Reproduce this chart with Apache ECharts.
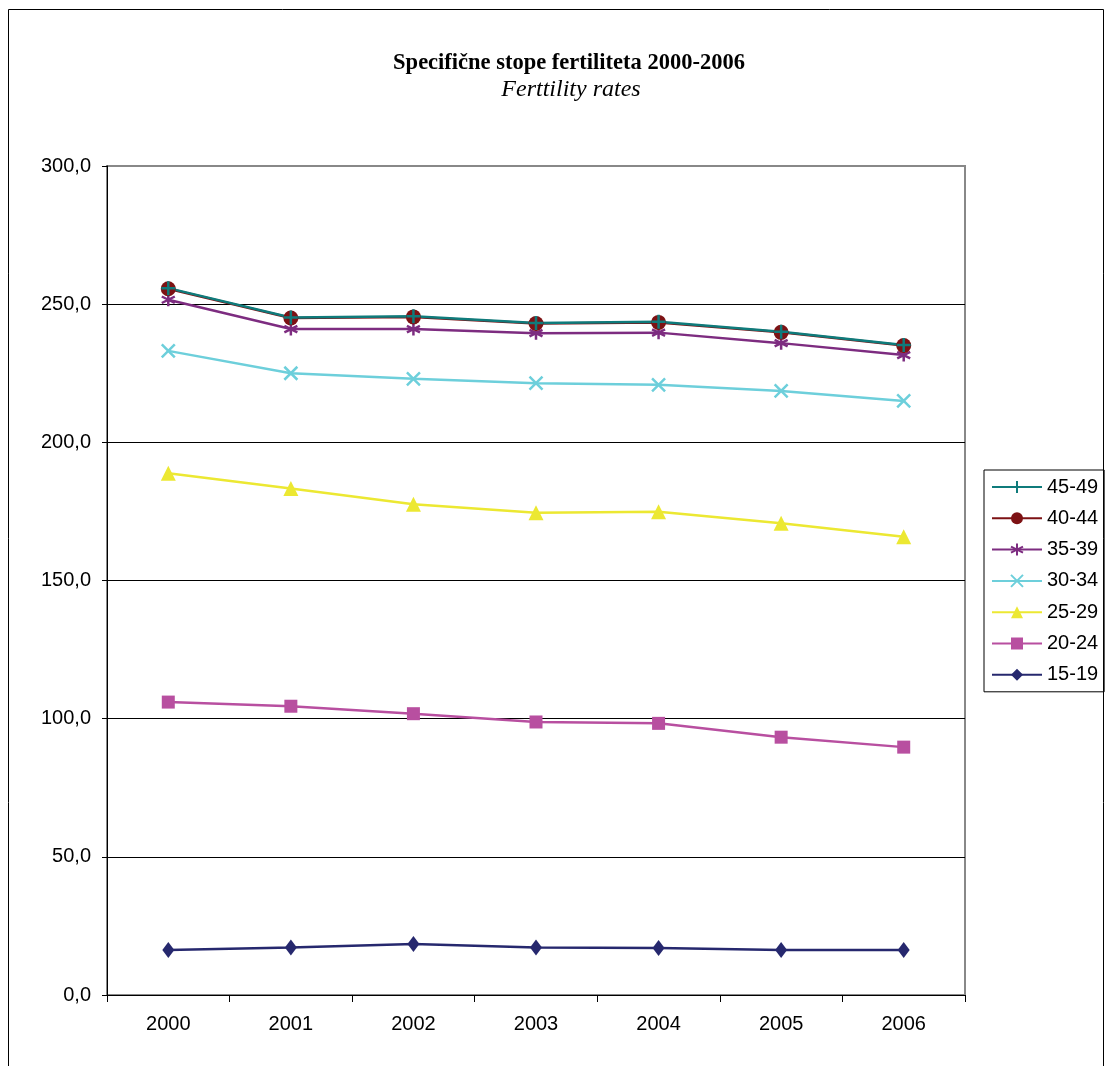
<!DOCTYPE html>
<html>
<head>
<meta charset="utf-8">
<script src="https://cdn.jsdelivr.net/npm/echarts@6/dist/echarts.min.js"></script>
<style>
html,body{margin:0;padding:0;background:#fff;}
#chart{width:1113px;height:1066px;}
</style>
</head>
<body>
<div id="chart"></div>
<script>
var years = ['2000','2001','2002','2003','2004','2005','2006'];
var s15_19 = [16.3, 17.2, 18.5, 17.2, 17.0, 16.3, 16.3];
var s20_24 = [106.0, 104.5, 101.8, 98.8, 98.3, 93.3, 89.7];
var s25_29 = [188.8, 183.3, 177.6, 174.5, 174.9, 170.7, 165.8];
var s30_34 = [233.1, 225.0, 223.0, 221.4, 220.8, 218.6, 215.0];
var s35_39 = [251.6, 241.0, 241.0, 239.5, 239.7, 235.9, 231.6];
var s40_44 = [255.6, 245.0, 245.4, 243.0, 243.4, 239.8, 235.0];
var s45_49 = [255.8, 245.2, 245.6, 243.2, 243.6, 240.0, 235.2];
var seriesNames = ['45-49','40-44','35-39','30-34','25-29','20-24','15-19'];
var yTicks = {min: 0, max: 300, interval: 50};

var plusPath = 'path://M5,0L5,10M0,5L10,5';
var xPath = 'path://M0,0L10,10M10,0L0,10';
var starPath = 'path://M5,0L5,10M0,2.5L10,7.5M10,2.5L0,7.5';

function mk(name, data, color, symbol, size, stroke) {
  return {
    name: name, type: 'line', data: data,
    symbol: symbol, symbolSize: size,
    lineStyle: {color: color, width: 2.5},
    itemStyle: stroke ? {color: color, borderColor: color, borderWidth: 2.5}
                      : {color: color, borderWidth: 0},
    emphasis: {disabled: true},
    animation: false
  };
}

var chart = echarts.init(document.getElementById('chart'), null, {renderer: 'canvas'});
chart.setOption({
  backgroundColor: '#ffffff',
  animation: false,
  title: [
    {text: 'Specifične stope fertiliteta 2000-2006', left: 564, top: 47, textAlign: 'center',
     textStyle: {fontFamily: 'Liberation Serif', fontWeight: 'bold', fontSize: 22.5, color: '#000'}},
    {text: 'Ferttility rates', left: 566, top: 73, textAlign: 'center',
     textStyle: {fontFamily: 'Liberation Serif', fontStyle: 'italic', fontWeight: 'normal', fontSize: 24, color: '#000'}}
  ],
  graphic: [
    {type: 'rect', shape: {x: 8.5, y: 9.5, width: 1095, height: 1100},
     style: {fill: 'none', stroke: '#000', lineWidth: 1}, silent: true, z: 100}
  ],
  legend: {
    orient: 'vertical', left: 984, top: 470,
    data: seriesNames,
    borderColor: '#000', borderWidth: 1,
    padding: [7, 6, 7, 7],
    itemWidth: 50, itemHeight: 15, itemGap: 11.3,
    textStyle: {fontFamily: 'Liberation Sans', fontSize: 20, color: '#000'},
    selectedMode: false
  },
  grid: {left: 107, right: 148, top: 166, bottom: 71, show: true, borderColor: '#888', borderWidth: 2, backgroundColor: 'transparent'},
  xAxis: {
    type: 'category', data: years, boundaryGap: true,
    axisLine: {lineStyle: {color: '#000', width: 1}},
    axisTick: {show: true, interval: 0, length: 7, lineStyle: {color: '#000'}},
    axisLabel: {margin: 19, fontFamily: 'Liberation Sans', fontSize: 20, color: '#000'}
  },
  yAxis: {
    type: 'value', min: yTicks.min, max: yTicks.max, interval: yTicks.interval,
    axisLine: {show: true, lineStyle: {color: '#000', width: 1}},
    axisTick: {show: true, length: 5, lineStyle: {color: '#000'}},
    splitLine: {lineStyle: {color: ['#000','#000','#000','#000','#000','#000','#888'], width: 1}},
    axisLabel: {margin: 16, fontFamily: 'Liberation Sans', fontSize: 20, color: '#000',
      formatter: function (v) { return v.toFixed(1).replace('.', ','); }}
  },
  series: [
    mk('15-19', s15_19, '#26286e', 'diamond', [12, 16], false),
    mk('20-24', s20_24, '#b84fa0', 'rect', 13, false),
    mk('25-29', s25_29, '#ece832', 'triangle', 15, false),
    mk('30-34', s30_34, '#6dcfdb', xPath, 13, true),
    mk('35-39', s35_39, '#7d2c80', starPath, 13, true),
    mk('40-44', s40_44, '#7d1214', 'circle', 15, false),
    mk('45-49', s45_49, '#0f7b7b', plusPath, 14, true)
  ]
});
</script>
</body>
</html>
